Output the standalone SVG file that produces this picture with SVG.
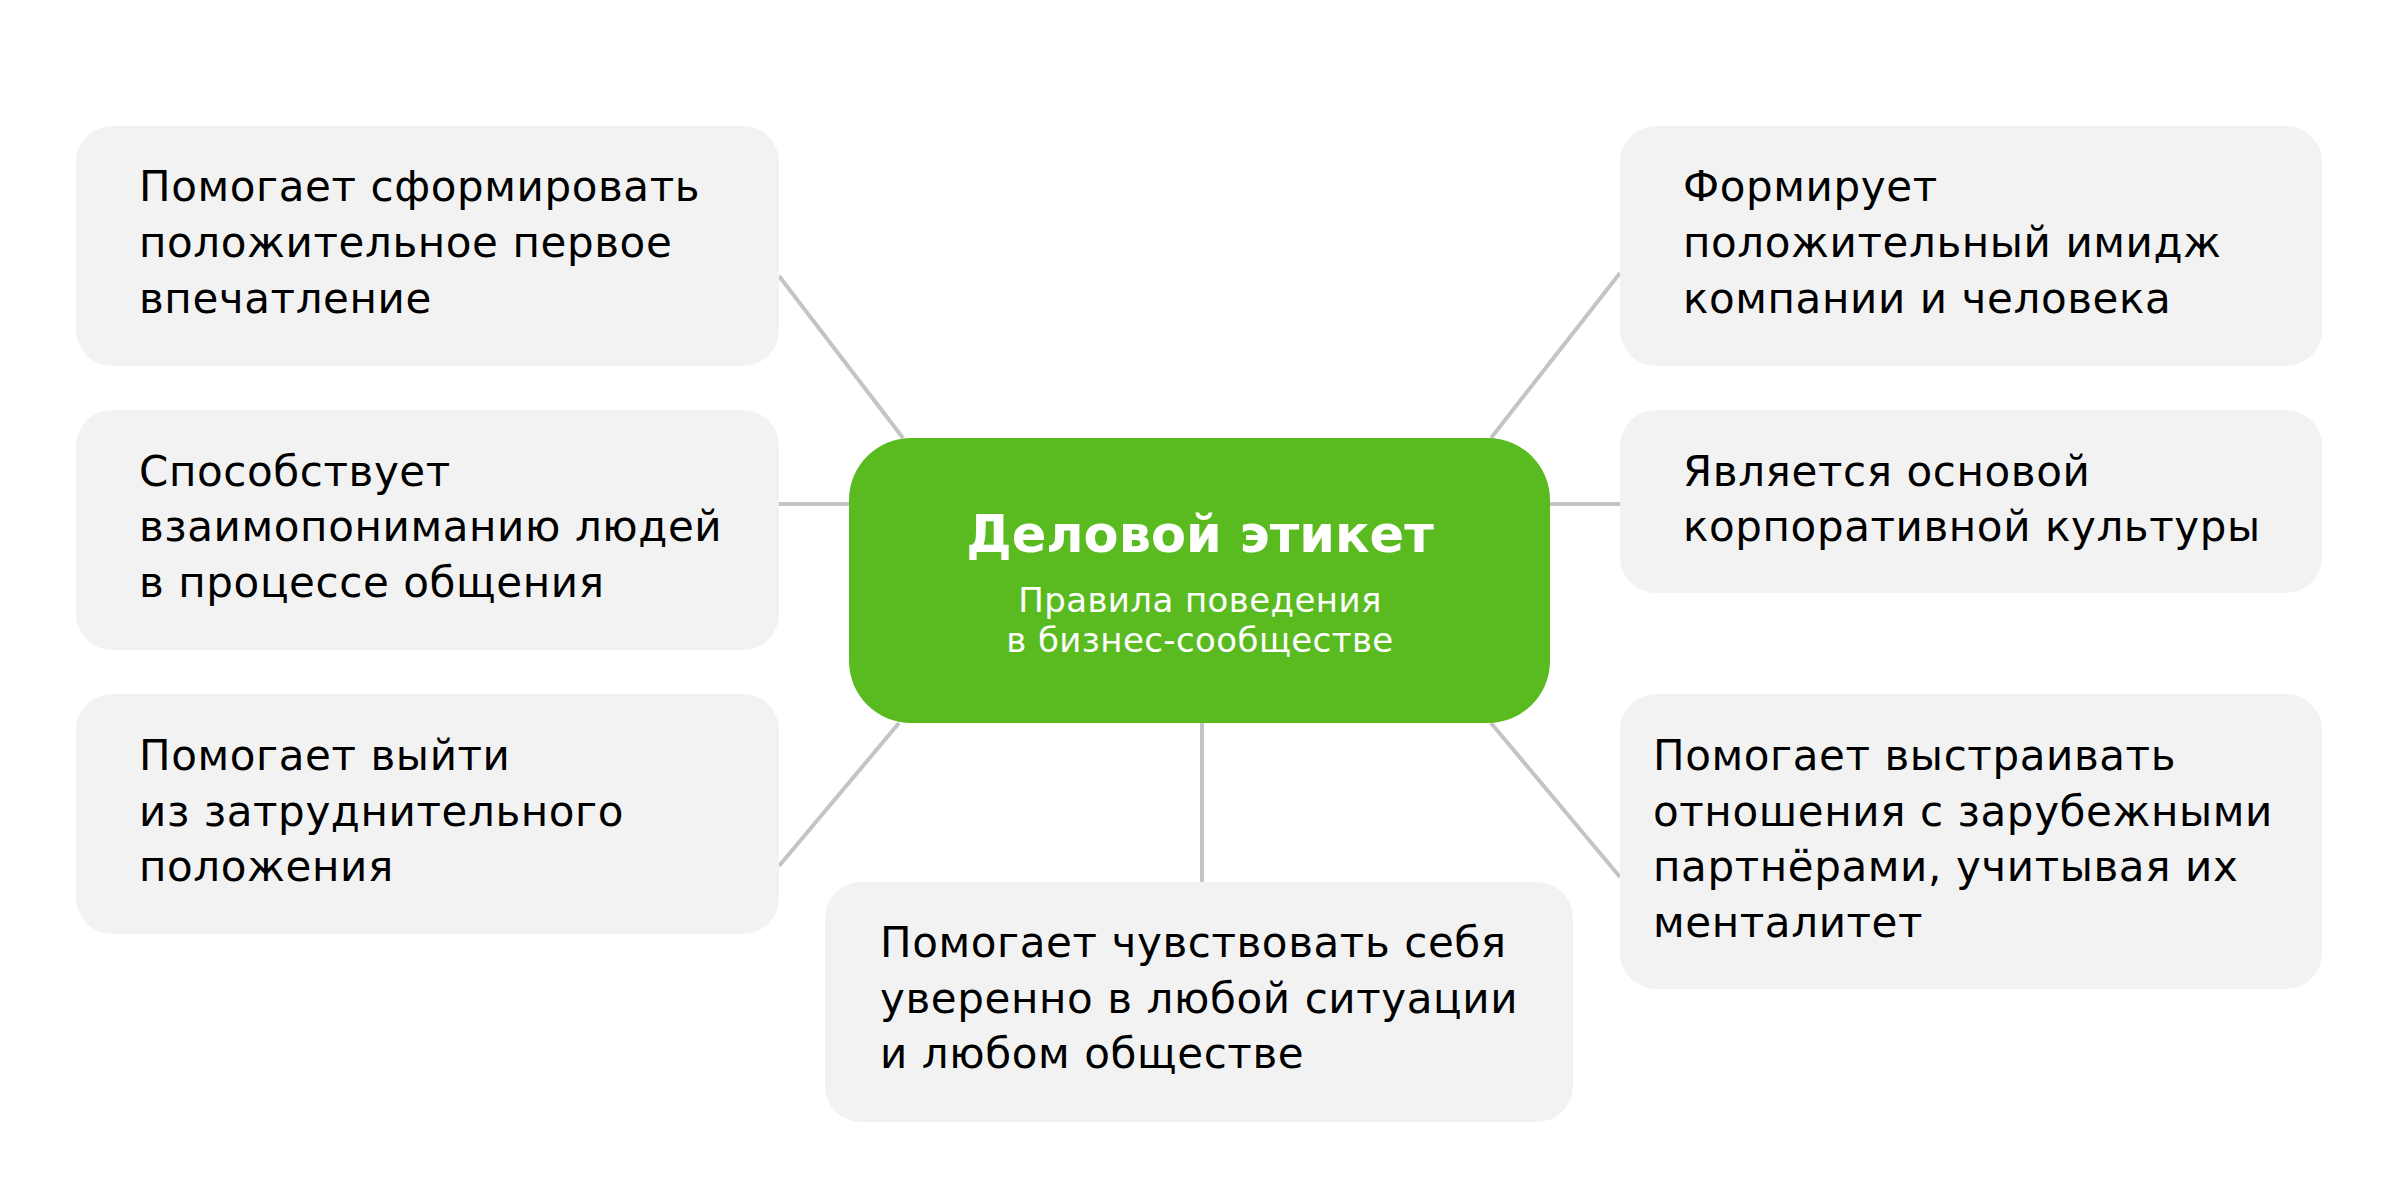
<svg xmlns="http://www.w3.org/2000/svg" width="2400" height="1196" viewBox="0 0 2400 1196">
<style>
.box{fill:#f2f2f2}
.hub{fill:#5abb21}
.t{font-family:"DejaVu Sans","Noto Sans",sans-serif;font-size:42px;letter-spacing:0.6px;fill:#000}
.title{font-family:"DejaVu Sans","Noto Sans",sans-serif;font-size:51px;font-weight:bold;fill:#fff;text-anchor:middle}
.sub{font-family:"DejaVu Sans","Noto Sans",sans-serif;font-size:34px;letter-spacing:0.4px;fill:#fff;text-anchor:middle}
.c{stroke:#c4c4c4;stroke-width:4;fill:none}
</style>
<rect width="2400" height="1196" fill="#fff"/>
<g id="connectors">
<line class="c" x1="779" y1="276" x2="903" y2="438"/>
<line class="c" x1="779" y1="504" x2="849" y2="504"/>
<line class="c" x1="779" y1="866" x2="899" y2="723"/>
<line class="c" x1="1491" y1="438" x2="1620" y2="273"/>
<line class="c" x1="1550" y1="504" x2="1620" y2="504"/>
<line class="c" x1="1491" y1="723" x2="1620" y2="877"/>
<line class="c" x1="1202" y1="723" x2="1202" y2="882"/>
</g>
<g id="hub">
<rect class="hub" x="849" y="438" width="701" height="285" rx="62"/>
<text class="title" x="1200" y="552">Деловой этикет</text>
<text class="sub" x="1200" y="612">Правила поведения</text>
<text class="sub" x="1200" y="652">в бизнес-сообществе</text>
</g>
<g id="n1">
<rect class="box" x="76" y="126" width="703" height="240" rx="36"/>
<text class="t"><tspan x="139" y="201">Помогает сформировать</tspan><tspan x="139" y="257">положительное первое</tspan><tspan x="139" y="313">впечатление</tspan></text>
</g>
<g id="n2">
<rect class="box" x="76" y="410" width="703" height="240" rx="36"/>
<text class="t"><tspan x="139" y="486">Способствует</tspan><tspan x="139" y="541">взаимопониманию людей</tspan><tspan x="139" y="597">в процессе общения</tspan></text>
</g>
<g id="n3">
<rect class="box" x="76" y="694" width="703" height="240" rx="36"/>
<text class="t"><tspan x="139" y="770">Помогает выйти</tspan><tspan x="139" y="826">из затруднительного</tspan><tspan x="139" y="881">положения</tspan></text>
</g>
<g id="n4">
<rect class="box" x="825" y="882" width="748" height="240" rx="36"/>
<text class="t"><tspan x="880" y="957">Помогает чувствовать себя</tspan><tspan x="880" y="1013">уверенно в любой ситуации</tspan><tspan x="880" y="1068">и любом обществе</tspan></text>
</g>
<g id="n5">
<rect class="box" x="1620" y="126" width="702" height="240" rx="36"/>
<text class="t"><tspan x="1683" y="201">Формирует</tspan><tspan x="1683" y="257">положительный имидж</tspan><tspan x="1683" y="313">компании и человека</tspan></text>
</g>
<g id="n6">
<rect class="box" x="1620" y="410" width="702" height="183" rx="36"/>
<text class="t"><tspan x="1683" y="486">Является основой</tspan><tspan x="1683" y="541">корпоративной культуры</tspan></text>
</g>
<g id="n7">
<rect class="box" x="1620" y="694" width="702" height="295" rx="36"/>
<text class="t"><tspan x="1653" y="770">Помогает выстраивать</tspan><tspan x="1653" y="826">отношения с зарубежными</tspan><tspan x="1653" y="881">партнёрами, учитывая их</tspan><tspan x="1653" y="937">менталитет</tspan></text>
</g>
</svg>
